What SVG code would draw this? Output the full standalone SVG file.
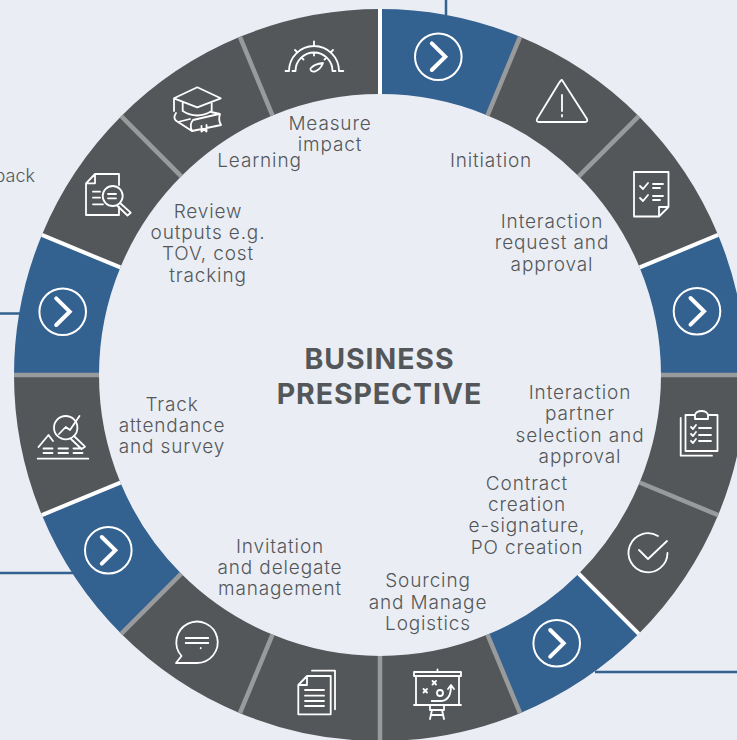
<svg xmlns="http://www.w3.org/2000/svg" width="737" height="740" viewBox="0 0 737 740">
<style>
.bg{fill:#eaeef4}
.seg{fill:#54575a}
.blue{fill:#336190}
.sg{stroke:#999a9b;stroke-width:4.500;fill:none}
.sw{stroke:#fff;stroke-width:4;fill:none}
.conn{stroke:#336190;stroke-width:2.500;fill:none}
.ic{fill:none;stroke:#fff;stroke-width:1.800;stroke-linecap:round;stroke-linejoin:round}
.ch{fill:none;stroke:#fff;stroke-width:2}
.cv{fill:none;stroke:#fff;stroke-width:4;stroke-linecap:round;stroke-linejoin:miter}
text{font-family:"Inter","Liberation Sans",sans-serif;font-size:19px;font-weight:300;fill:#54575a;text-anchor:middle;letter-spacing:.85px}
.t{font-size:28.500px;font-weight:700;fill:#54575a;letter-spacing:.9px}
.e{font-size:18px;letter-spacing:0;text-anchor:end}
</style>
<defs>
<path id="sector" d="M380 9A366 366 0 0 1 520.060 36.870L487.530 115.390A281 281 0 0 0 380 94Z"/>
<g id="go"><circle class="ch" r="23.300"/><path class="cv" d="M-6.500-13.300L7 0-6.500 13.300"/></g>
</defs>
<rect class="bg" width="737" height="740"/>
<g id="connectors">
<path class="conn" d="M446 0V15"/>
<path class="conn" d="M0 313.500H20"/>
<path class="conn" d="M0 573H74"/>
<path class="conn" d="M595 672H737"/>
</g>
<g id="seg-initiation"><use class="seg" href="#sector" transform="rotate(22.500 380 375)"/>
<path class="ic" d="M562 80L587 119Q588 122 585 122H539Q536 122 537 119L559 83Q562 79 562 80ZM562 95V111M562 115V116.500"/></g>
<g id="seg-request"><use class="seg" href="#sector" transform="rotate(45 380 375)"/>
<path class="ic" d="M634 172H668.500V207L659 216.500H634ZM668.500 207H659V216.500M640 186L643 189 648 183M640 198L643 201 648 195M653 184H663M653 188H660M653 196H663M653 200H660"/></g>
<g id="seg-go-right"><use class="blue" href="#sector" transform="rotate(67.500 380 375)"/><use href="#go" x="697" y="311.300"/></g>
<g id="seg-partner"><use class="seg" href="#sector" transform="rotate(90 380 375)"/>
<path class="ic" d="M695 415H685.500V451H717.500V415H708M695 419V415Q696 411 701.500 411 707 411 708 415V419ZM680.700 418V455.700H712M691 427L693 429 696 425M691 434L693 436 696 432M691 441L693 443 696 439M699 428H711M699 435H711M699 441H711"/></g>
<g id="seg-contract"><use class="seg" href="#sector" transform="rotate(112.500 380 375)"/>
<path class="ic" d="M658 536A19.500 19.500 0 1 0 667.500 553M639 550L648 559 667 541"/></g>
<g id="seg-go-lower-right"><use class="blue" href="#sector" transform="rotate(135 380 375)"/><use href="#go" x="556.700" y="643.300"/></g>
<g id="seg-logistics"><use class="seg" href="#sector" transform="rotate(157.500 380 375)"/>
<path class="ic" d="M414 672H461V676H414ZM437.500 669.500V672M416 676V705M459 676V705M414 705H461M430 705.500V710H444V705.500M432 710L430 719M442 710L444 719M431 715H443M423.500 689L427 692.500M427 689L423.500 692.500M432.500 681L436 684.500M436 681L432.500 684.500M431.700 701H440Q451 701 451 686M448 689L451 685 454 689"/><circle class="ic" cx="440" cy="693" r="3"/></g>
<g id="seg-delegate"><use class="seg" href="#sector" transform="rotate(180 380 375)"/>
<path class="ic" d="M307 676H330.700V714.300H298.300V685ZM307 676V685H298.300M312 670.700H335V709.300M305 690H324M305 695.700H324M305 701H324M305 706H324"/></g>
<g id="seg-invitation"><use class="seg" href="#sector" transform="rotate(202.500 380 375)"/>
<path class="ic" d="M176 663H196.700A20.700 20.700 0 1 0 181.500 656ZM185.700 638H208.300M185.700 643H208.300M200.700 648V648.300"/></g>
<g id="seg-go-lower-left"><use class="blue" href="#sector" transform="rotate(225 380 375)"/><use href="#go" x="108.300" y="550.300"/></g>
<g id="seg-track"><use class="seg" href="#sector" transform="rotate(247.500 380 375)"/>
<circle class="ic" cx="65.700" cy="427.700" r="11.700"/><path class="ic" d="M74 436L85 446.700 81.500 449 71 439M38.500 447L48.500 435 53 441M59 434L65.700 427 70 430 79.500 416M37.700 458.700H88.300M43.500 448.500H52.500M58.500 448.500H68M73.500 448.500H82.500M43.500 453H52.500M58.500 453H68M73.500 453H82.500"/></g>
<g id="seg-go-left"><use class="blue" href="#sector" transform="rotate(270 380 375)"/><use href="#go" x="62.700" y="311.700"/></g>
<g id="seg-review"><use class="seg" href="#sector" transform="rotate(292.500 380 375)"/>
<path class="ic" d="M119 185V174H95L86 183.300V215H119V207M95 174V183.300H86M93 191.700H100M93 197.700H100M93 204.300H103M108 194H116M108 198.300H116"/><circle class="ic" cx="112.700" cy="196" r="10"/><path class="ic" d="M120 203L130.700 212.700 127.500 215.500 117.500 206"/></g>
<g id="seg-learning"><use class="seg" href="#sector" transform="rotate(315 380 375)"/>
<path class="ic" d="M197.300 87.300L220.700 98.300 197.300 107.300 174 98.300ZM182.700 103V111Q197 120 211.700 111V103M174 98.300V111M176 113Q172 119 178 122L192 131 221 125Q218 120 220 114L211 112M178 122L190 119M192 131Q189 125 193 120L219 114M201.500 126V131.500L204 129.500 206.500 131.500V125"/></g>
<g id="seg-measure"><use class="seg" href="#sector" transform="rotate(337.500 380 375)"/>
<path class="ic" d="M285.500 71H289A25 25 0 0 1 339 71H343.300M292.500 71H295.500A18.500 18.500 0 0 1 332.500 71H335.500M314 41.500V46M295 50L297.500 52.500M333 50L330.500 52.500M314 52.500V55.500M301.500 57.500L303.500 59.500M326.500 57.500L324.500 59.500"/><path class="ic" d="M310.500 68.500Q314 64 323 63 321 69 315 71.500 310 72 310.500 68.500Z"/></g>
<g id="seg-go-top"><use class="blue" href="#sector"/><use href="#go" x="438.300" y="56.700"/></g>
<g id="separators">
<path class="sw" d="M380 9V94"/>
<path class="sg" d="M380 9V94" transform="rotate(22.500 380 375)"/>
<path class="sg" d="M380 9V94" transform="rotate(45 380 375)"/>
<path class="sw" d="M380 9V94" transform="rotate(67.500 380 375)"/>
<path class="sg" d="M380 9V94" transform="rotate(90 380 375)"/>
<path class="sg" d="M380 9V94" transform="rotate(112.500 380 375)"/>
<path class="sw" d="M380 9V94" transform="rotate(135 380 375)"/>
<path class="sg" d="M380 9V94" transform="rotate(157.500 380 375)"/>
<path class="sg" d="M380 9V94" transform="rotate(180 380 375)"/>
<path class="sg" d="M380 9V94" transform="rotate(202.500 380 375)"/>
<path class="sg" d="M380 9V94" transform="rotate(225 380 375)"/>
<path class="sw" d="M380 9V94" transform="rotate(247.500 380 375)"/>
<path class="sg" d="M380 9V94" transform="rotate(270 380 375)"/>
<path class="sw" d="M380 9V94" transform="rotate(292.500 380 375)"/>
<path class="sg" d="M380 9V94" transform="rotate(315 380 375)"/>
<path class="sg" d="M380 9V94" transform="rotate(337.500 380 375)"/>
</g>
<g id="labels">
<text x="330" y="130">Measure</text><text x="330" y="151">impact</text>
<text x="259.500" y="167">Learning</text>
<text x="491" y="166.500">Initiation</text>
<text x="552" y="228">Interaction</text><text x="552" y="249">request and</text><text x="552" y="271">approval</text>
<text x="208" y="218">Review</text><text x="208" y="239">outputs e.g.</text><text x="208" y="260">TOV, cost</text><text x="208" y="282">tracking</text>
<text class="t" x="379.500" y="368.500">BUSINESS</text><text class="t" x="379.500" y="403.500">PRESPECTIVE</text>
<text x="580" y="399">Interaction</text><text x="580" y="420">partner</text><text x="580" y="442">selection and</text><text x="580" y="463">approval</text>
<text x="527" y="490">Contract</text><text x="527" y="511">creation</text><text x="527" y="532">e-signature,</text><text x="527" y="554">PO creation</text>
<text x="172" y="411">Track</text><text x="172" y="432">attendance</text><text x="172" y="453">and survey</text>
<text x="280" y="553">Invitation</text><text x="280" y="574">and delegate</text><text x="280" y="595">management</text>
<text x="428" y="587">Sourcing</text><text x="428" y="609">and Manage</text><text x="428" y="630">Logistics</text>
<text class="e" x="35" y="182">back</text>
</g>
</svg>
